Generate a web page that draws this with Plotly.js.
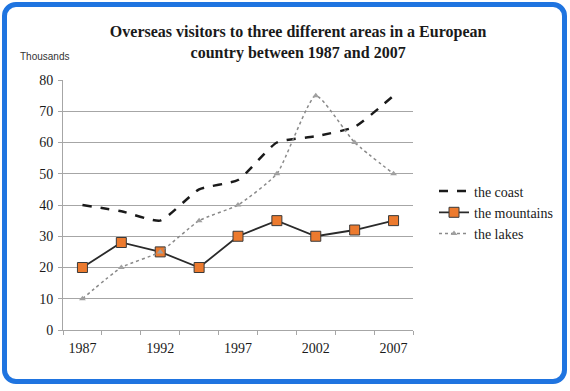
<!DOCTYPE html>
<html>
<head>
<meta charset="utf-8">
<script src="https://cdn.plot.ly/plotly-3.0.1.min.js"></script>
<style>
  html, body { margin: 0; padding: 0; background: #fff; }
  #wrap { position: relative; width: 570px; height: 391px; }
  #chart { width: 570px; height: 391px; }
  #frame { position: absolute; left: 2px; top: 2px; width: 555px; height: 372px;
           border: 5px solid #1f74e0; border-radius: 14px; pointer-events: none; }
</style>
</head>
<body>
<div id="wrap">
  <div id="chart"></div>
  <div id="frame"></div>
</div>
<script>
// Data (9 points, every half of a 5-year step from 1987 to 2007)
const positions = [0, 1, 2, 3, 4, 5, 6, 7, 8];
const tickPositions = [0, 2, 4, 6, 8];
const tickLabels = ["1987", "1992", "1997", "2002", "2007"];
const coast = [40, 38, 35, 45, 48, 60, 62, 65, 75];
const mountains = [20, 28, 25, 20, 30, 35, 30, 32, 35];
const lakes = [10, 20, 25, 35, 40, 50, 75, 60, 50];

const serif = "Liberation Serif";

const traces = [
  {
    x: positions, y: coast, name: "the coast", mode: "lines",
    line: { color: "#1a1a1a", width: 2.5, dash: "dash", shape: "spline", smoothing: 0.5 }
  },
  {
    x: positions, y: mountains, name: "the mountains", mode: "lines+markers",
    line: { color: "#2a2a2a", width: 1.8 },
    marker: { symbol: "square", size: 10, color: "#ec7a2e", line: { color: "#3a3a3a", width: 1 } }
  },
  {
    x: positions, y: lakes, name: "the lakes", mode: "lines+markers",
    line: { color: "#8a8a8a", width: 1.5, dash: "dot", shape: "spline", smoothing: 0.5 },
    marker: { symbol: "triangle-up", size: 6, color: "#a0a0a0" }
  }
];

const layout = {
  width: 570, height: 391,
  margin: { l: 63, r: 152, t: 80, b: 61 },
  paper_bgcolor: "#ffffff", plot_bgcolor: "#ffffff",
  showlegend: true,
  font: { family: serif, color: "#1a1a1a" },
  title: {
    text: "<b>Overseas visitors to three different areas in a European<br>country between 1987 and 2007</b>",
    font: { family: serif, size: 16, color: "#1a1a1a" },
    x: 0.523, xanchor: "center", y: 0.905, yanchor: "top"
  },
  xaxis: {
    range: [-0.5, 8.5],
    tickvals: tickPositions, ticktext: tickLabels,
    ticks: "", showgrid: false, zeroline: false,
    showline: true, linecolor: "#a6a6a6", linewidth: 1,
    tickfont: { family: serif, size: 14, color: "#1a1a1a" },
    ticklabelstandoff: 5,
    minor: { tick0: -0.5, dtick: 1, ticks: "outside", ticklen: 4, tickcolor: "#a6a6a6", showgrid: false },
    fixedrange: true
  },
  yaxis: {
    range: [0, 80], dtick: 10,
    ticks: "outside", ticklen: 4, tickcolor: "#a6a6a6",
    showgrid: true, gridcolor: "#a6a6a6", gridwidth: 1,
    showline: true, linecolor: "#a6a6a6", linewidth: 1, zeroline: false,
    tickfont: { family: serif, size: 14, color: "#1a1a1a" },
    ticklabelstandoff: 2,
    fixedrange: true
  },
  legend: {
    x: 1.06, xanchor: "left", y: 0.618, yanchor: "top",
    font: { family: serif, size: 14, color: "#1a1a1a" },
    tracegroupgap: 0, itemwidth: 30,
    bgcolor: "rgba(0,0,0,0)"
  },
  annotations: [
    {
      text: "Thousands", xref: "paper", yref: "paper",
      x: -0.13, xanchor: "left", y: 1.092, yanchor: "middle", showarrow: false,
      font: { family: "Liberation Sans", size: 10, color: "#333333" }
    }
  ]
};

Plotly.newPlot("chart", traces, layout, { displayModeBar: false, staticPlot: true });
</script>
</body>
</html>
